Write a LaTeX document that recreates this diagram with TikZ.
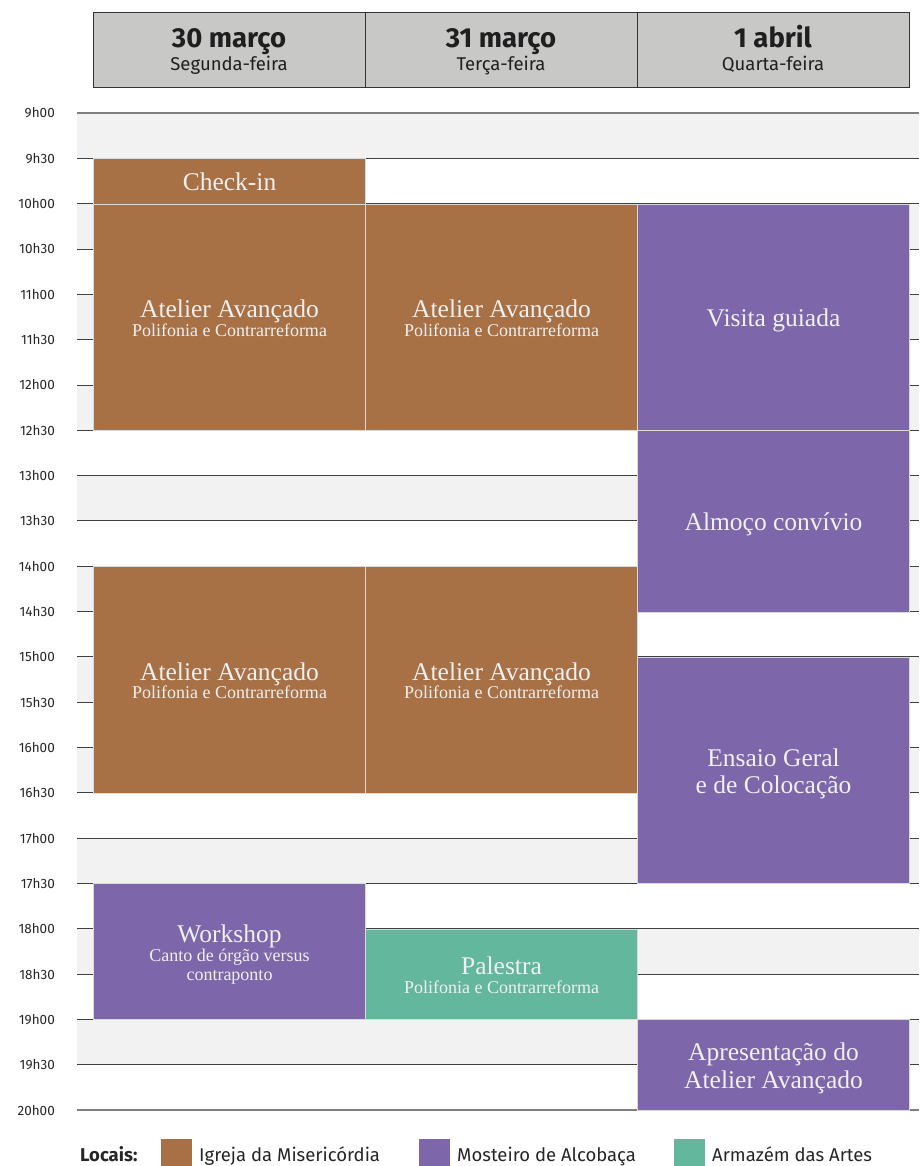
\documentclass[tikz,border=0pt]{standalone}
\usepackage{fontspec}
\setmainfont{Liberation Serif}
\newfontfamily\sansa{Fira Sans}

\definecolor{igreja}{HTML}{A87045}
\definecolor{mosteiro}{HTML}{7D67AA}
\definecolor{armazem}{HTML}{63B79C}
\definecolor{faixa}{HTML}{F2F2F2}
\definecolor{cabec}{HTML}{C8C8C6}

\tikzset{
  caixa/.style={draw=white!85!black, line width=1pt, text=white!94!black,
    anchor=north west, minimum width=272pt, inner sep=0pt,
    font=\fontsize{25.5}{27.5}\selectfont},
  dia/.style={draw=black!80, line width=1pt, fill=cabec, minimum width=272pt,
    minimum height=75pt, inner sep=0pt},
  diatit/.style={anchor=base, inner sep=0pt, text=black!88, font=\sansa\bfseries\fontsize{27.5}{30}\selectfont},
  diasub/.style={anchor=base, inner sep=0pt, text=black!88, font=\sansa\fontsize{18.5}{20}\selectfont},
  hora/.style={anchor=east, inner sep=0pt, font=\sansa\fontsize{13.5}{14}\selectfont, text=black!85},
  legenda/.style={font=\sansa\fontsize{18.5}{20}\selectfont, text=black!85, anchor=base west, inner sep=0pt}
}

% evento: nome, coluna, inicio, fim (meias horas desde 9h00), cor, texto
\newcommand{\evento}[6]{%
  \pgfmathsetmacro{\xa}{93+272*(#2-1)}
  \pgfmathsetmacro{\ya}{113+45.32*#3}
  \pgfmathsetmacro{\alt}{45.32*(#4-#3)}
  \node[caixa, fill=#5, minimum height=\alt pt] (#1) at (\xa,\ya)
    {\raisebox{-4pt}[\height][\depth]{\begin{tabular}{@{}c@{}}#6\end{tabular}}};}
\newcommand{\sub}{\fontsize{18}{20}\selectfont}

\begin{document}
\begin{tikzpicture}[x=1pt, y=-1pt]
\useasboundingbox (0,0) rectangle (919,1166);

% faixas
\foreach \t in {0,2,...,20}
  \fill[faixa] (77,{113+45.32*\t}) rectangle (919,{113+45.32*(\t+1)});
\foreach \t in {1,...,21}
  \draw[black!75, line width=0.8pt] (77,{113+45.32*\t}) -- (919,{113+45.32*\t});
\draw[black!50, line width=2pt] (77,113) -- (919,113);
\draw[black!50, line width=2pt] (77,1110) -- (919,1110);

% horas
\foreach \h [count=\i from 0] in {9,10,...,20} {
  \node[hora] (h\h) at (55,{113+90.64*\i}) {\h h00};
  \ifnum\h<20 \node[hora] (m\h) at (55,{113+90.64*\i+45.32}) {\h h30}; \fi
}

% dias
\node[dia] (dia1) at (229,50.5) {};
\node[dia] (dia2) at (501,50.5) {};
\node[dia] (dia3) at (773,50.5) {};
\node[diatit] (tit1) at (229,48) {30 março};
\node[diasub] (sub1) at (229,71) {Segunda-feira};
\node[diatit] (tit2) at (501,48) {31 março};
\node[diasub] (sub2) at (501,71) {Terça-feira};
\node[diatit] (tit3) at (773,48) {1 abril};
\node[diasub] (sub3) at (773,71) {Quarta-feira};

% eventos
\evento{checkin}{1}{1}{2}{igreja}{Check-in}
\evento{atelierA}{1}{2}{7}{igreja}{Atelier Avançado\\[-9pt]\sub Polifonia e Contrarreforma}
\evento{atelierB}{2}{2}{7}{igreja}{Atelier Avançado\\[-9pt]\sub Polifonia e Contrarreforma}
\evento{visita}{3}{2}{7}{mosteiro}{Visita guiada}
\evento{almoco}{3}{7}{11}{mosteiro}{Almoço convívio}
\evento{atelierC}{1}{10}{15}{igreja}{Atelier Avançado\\[-9pt]\sub Polifonia e Contrarreforma}
\evento{atelierD}{2}{10}{15}{igreja}{Atelier Avançado\\[-9pt]\sub Polifonia e Contrarreforma}
\evento{ensaio}{3}{12}{17}{mosteiro}{Ensaio Geral\\e de Colocação}
\evento{workshop}{1}{17}{20}{mosteiro}{Workshop\\[-9pt]\sub Canto de órgão versus\\[-8.5pt]\sub contraponto}
\evento{palestra}{2}{18}{20}{armazem}{Palestra\\[-9pt]\sub Polifonia e Contrarreforma}
\evento{apresent}{3}{20}{22}{mosteiro}{Apresentação do\\Atelier Avançado}

% locais
\node[legenda, font=\sansa\bfseries\fontsize{18.5}{20}\selectfont] (locais) at (80,1161) {Locais:};
\fill[igreja] (161,1139) rectangle (192,1166);
\node[legenda] (l1) at (199,1161) {Igreja da Misericórdia};
\fill[mosteiro] (419,1139) rectangle (450,1166);
\node[legenda] (l2) at (457,1161) {Mosteiro de Alcobaça};
\fill[armazem] (674,1139) rectangle (705,1166);
\node[legenda] (l3) at (712,1161) {Armazém das Artes};
\end{tikzpicture}
\end{document}
